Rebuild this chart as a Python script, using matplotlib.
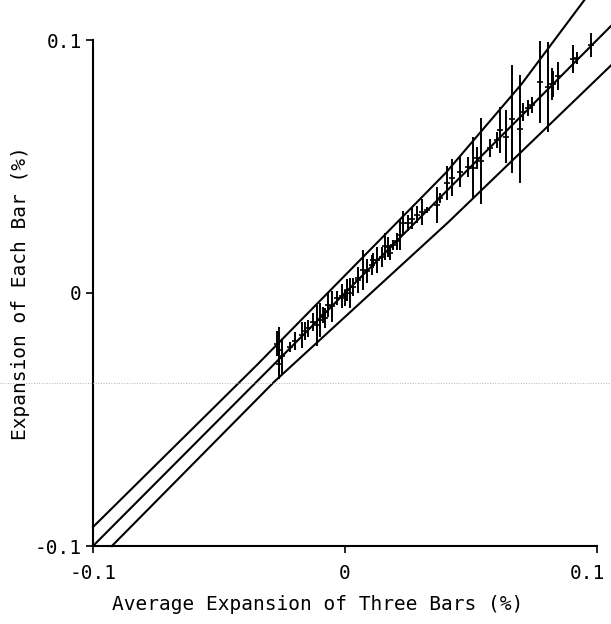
import matplotlib
matplotlib.use("Agg")
import matplotlib.pyplot as plt
from matplotlib.lines import Line2D
from matplotlib.transforms import ScaledTranslation
import numpy as np

# measured points: average expansion (x), expansion of each bar (y), error (half length)
x_avg = [-0.026, -0.026, -0.027, -0.025, -0.0218, -0.0198, -0.0172, -0.0159, -0.0147,
         -0.0127, -0.0112, -0.0099, -0.0087, -0.008, -0.0067, -0.0053, -0.0033, -0.0013,
         0.0, 0.0007, 0.002, 0.0033, 0.005, 0.0053, 0.0073, 0.0086, 0.0106, 0.011,
         0.0126, 0.0146, 0.0159, 0.0172, 0.018, 0.0192, 0.0205, 0.0218, 0.0231, 0.0251,
         0.0265, 0.0285, 0.0304, 0.0324, 0.0364, 0.0377,
         0.0403, 0.0423, 0.0456, 0.049, 0.0509, 0.0523, 0.054, 0.0575, 0.0602, 0.0615,
         0.0639, 0.0664, 0.0694, 0.0708, 0.0728, 0.0741, 0.0774, 0.0804, 0.082, 0.0827,
         0.0846, 0.0906, 0.092, 0.0976]
y_each = [-0.0225, -0.028, -0.020, -0.025, -0.0213, -0.019, -0.0166, -0.015, -0.014,
          -0.0115, -0.0128, -0.0107, -0.0087, -0.010, -0.0047, -0.0053, -0.002, -0.0013,
          -0.002, 0.0012, 0.0, 0.0024, 0.006, 0.0051, 0.009, 0.0087, 0.011, 0.013,
          0.013, 0.0142, 0.0184, 0.0182, 0.016, 0.019, 0.0204, 0.0229, 0.0277, 0.0277,
          0.0294, 0.031, 0.032, 0.0328, 0.0348, 0.0375,
          0.0435, 0.0455, 0.0478, 0.0498, 0.0494, 0.0534, 0.052, 0.0573, 0.0605, 0.0644,
          0.0617, 0.0688, 0.0648, 0.0715, 0.0731, 0.0743, 0.0834, 0.0814, 0.0826, 0.0826,
          0.0858, 0.0925, 0.0929, 0.098]
y_err = [0.009, 0.006, 0.005, 0.007, 0.002, 0.0036, 0.005, 0.0037, 0.0033,
         0.0037, 0.008, 0.0067, 0.0033, 0.004, 0.0047, 0.006, 0.0026, 0.0047,
         0.003, 0.0042, 0.006, 0.0036, 0.003, 0.005, 0.008, 0.0046, 0.004, 0.003,
         0.005, 0.004, 0.0053, 0.004, 0.003, 0.002, 0.0033, 0.006, 0.0046, 0.0033,
         0.0043, 0.0033, 0.0053, 0.0013, 0.007, 0.002,
         0.0066, 0.0073, 0.006, 0.004, 0.0124, 0.0045, 0.017, 0.0035, 0.0033, 0.009,
         0.0105, 0.0214, 0.0214, 0.0035, 0.003, 0.003, 0.0164, 0.0178, 0.0063, 0.005,
         0.0055, 0.0055, 0.0025, 0.0047]

# band lines
upper_x = [-0.1, -0.035, 0.04, 0.07, 0.095]
upper_y = [-0.0925, -0.0285, 0.0475, 0.0825, 0.1158]
mid_x = [-0.1, 0.1056]
mid_y = [-0.1, 0.1056]
lower_x = [-0.0925, -0.028, 0.041, 0.1056]
lower_y = [-0.1, -0.035, 0.028, 0.090]

plt.rcParams["font.family"] = "DejaVu Sans Mono"

fig = plt.figure(figsize=(6.11, 6.24), dpi=100)
ax = fig.add_axes([93/611, 1 - 546/624, (597 - 93)/611, (546 - 40)/624])

for lx, ly in [(upper_x, upper_y), (mid_x, mid_y), (lower_x, lower_y)]:
    ax.plot(lx, ly, color="black", lw=1.5, clip_on=False)

ax.errorbar(x_avg, y_each, yerr=y_err, fmt="_", color="black", ms=5, mew=1.2,
            elinewidth=1.4, capsize=0, clip_on=False)

ax.set_xlim(-0.1, 0.1)
ax.set_ylim(-0.1, 0.1)
ax.set_xticks([-0.1, 0, 0.1], ["-0.1", "0", "0.1"])
ax.set_yticks([-0.1, 0, 0.1], ["-0.1", "0", "0.1"])
ax.tick_params(direction="out", length=5, width=1.2, labelsize=14)
ax.tick_params(axis="x", pad=8)
ax.tick_params(axis="y", pad=3)
for s in ["top", "right"]:
    ax.spines[s].set_visible(False)
for s in ["left", "bottom"]:
    ax.spines[s].set_linewidth(1.5)

# the right "0.1" sits against the page edge, nudge it in a bit
last = ax.get_xticklabels()[-1]
last.set_transform(last.get_transform() + ScaledTranslation(-7/72, 0, fig.dpi_scale_trans))

ax.set_xlabel("Average Expansion of Three Bars (%)", fontsize=14)
ax.set_ylabel("Expansion of Each Bar (%)", fontsize=14)
ax.xaxis.set_label_coords(0.446, -0.097)
ax.yaxis.set_label_coords(-0.125, 0.5)

# faint scan line across the page
fig.add_artist(Line2D([0, 1], [1 - 383/624, 1 - 383/624], color="0.7", lw=0.7, ls=":"))

fig.savefig("out.png", dpi=100)
